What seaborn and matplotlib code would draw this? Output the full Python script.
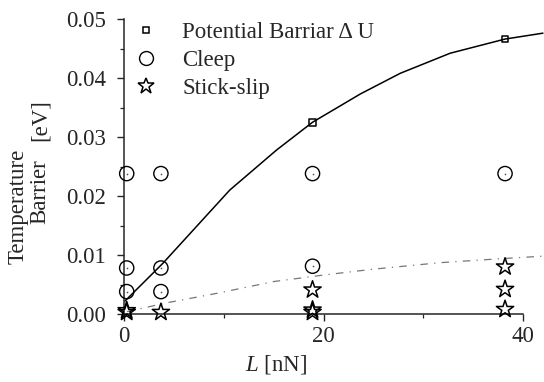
import numpy as np
import pandas as pd
import matplotlib
matplotlib.use("Agg")
import matplotlib.pyplot as plt
import seaborn as sns
from matplotlib.lines import Line2D
from matplotlib.ticker import MultipleLocator

# ---- data ----
barrier_x = [18.9, 38.2]
barrier_y = [0.0325, 0.0466]

cleep_x = [0.27, 0.27, 0.27, 3.7, 3.7, 3.7, 18.9, 18.9, 38.2]
cleep_y = [0.0238, 0.0078, 0.0038, 0.0238, 0.0078, 0.0038, 0.0238, 0.0081, 0.0238]

stick_x = [0.27, 0.27, 3.7, 18.9, 18.9, 18.9, 38.2, 38.2, 38.2]
stick_y = [0.0003, 0.0006, 0.0003, 0.0041, 0.0007, 0.0003, 0.0080, 0.0042, 0.0008]

# fitted curve through the potential barrier
barrier_curve_x = [0.1, 3.9, 10.6, 15.3, 18.9, 23.7, 27.7, 32.7, 38.2, 42.0]
barrier_curve_y = [0.0022, 0.0086, 0.0210, 0.0278, 0.0325, 0.0373, 0.0408, 0.0442, 0.0466, 0.0476]

# dash-dot guide curve
guide_x = [0.3, 4.3, 9.6, 15.0, 20.0, 25.0, 31.7, 38.0, 42.0]
guide_y = [0.0004, 0.0019, 0.0036, 0.0055, 0.0066, 0.0076, 0.0087, 0.0094, 0.0098]

x_ticks = [0, 20, 40]
y_ticks = [0.00, 0.01, 0.02, 0.03, 0.04, 0.05]
y_tick_labels = ["0.00", "0.01", "0.02", "0.03", "0.04", "0.05"]

# ---- style ----
sns.set_style("ticks")
plt.rcParams["font.family"] = ["Liberation Serif", "DejaVu Serif"]
plt.rcParams["mathtext.fontset"] = "custom"
plt.rcParams["mathtext.it"] = "Liberation Serif:italic"
plt.rcParams["mathtext.rm"] = "Liberation Serif"

FS = 16.5
fig = plt.figure(figsize=(5.44, 3.82), dpi=100)
ax = fig.add_axes([124 / 544, 1 - 314 / 382, (523 - 124) / 544, (314 - 19) / 382])
ax.set_xlim(0, 40)
ax.set_ylim(0, 0.05)

df_curve = pd.DataFrame({"x": barrier_curve_x, "y": barrier_curve_y})
df_guide = pd.DataFrame({"x": guide_x, "y": guide_y})
sns.lineplot(data=df_curve, x="x", y="y", ax=ax, color="black", lw=1.1,
             sort=True, estimator=None, clip_on=False)
sns.lineplot(data=df_guide, x="x", y="y", ax=ax, color="#777777", lw=0.9,
             sort=True, estimator=None, clip_on=False, dashes=False)
ax.lines[-1].set_linestyle((0, (6, 5, 1, 5)))

df_c = pd.DataFrame({"x": cleep_x, "y": cleep_y})
df_s = pd.DataFrame({"x": stick_x, "y": stick_y})
df_b = pd.DataFrame({"x": barrier_x, "y": barrier_y})

sns.scatterplot(data=df_c, x="x", y="y", ax=ax, marker="o", s=105,
                facecolor="none", edgecolor="black", linewidth=1.0, clip_on=False, zorder=3)
sns.scatterplot(data=df_c, x="x", y="y", ax=ax, marker="o", s=1.5,
                color="#555555", linewidth=0, clip_on=False, zorder=3)
sns.scatterplot(data=df_s, x="x", y="y", ax=ax, marker="*", s=170,
                facecolor="none", edgecolor="black", linewidth=1.1, clip_on=False, zorder=4)
sns.scatterplot(data=df_b, x="x", y="y", ax=ax, marker="s", s=22,
                facecolor="none", edgecolor="black", linewidth=1.1, clip_on=False, zorder=4)

# axes cosmetics
sns.despine(ax=ax, top=True, right=True)
ax.spines["left"].set_linewidth(1.1)
ax.spines["bottom"].set_linewidth(1.1)
ax.set_xticks(x_ticks)
ax.set_yticks(y_ticks)
ax.set_yticklabels(y_tick_labels)
ax.xaxis.set_minor_locator(MultipleLocator(10))
ax.yaxis.set_minor_locator(MultipleLocator(0.005))
ax.tick_params(axis="y", which="major", direction="out", length=5, width=1,
               labelsize=FS, pad=8)
ax.tick_params(axis="x", which="major", direction="out", length=5, width=1,
               labelsize=FS, pad=4)
ax.tick_params(axis="both", which="minor", direction="out", length=3, width=0.9)
ax.set_xlabel("")
ax.set_ylabel("")

fig.text(276 / 544, 1 - 365 / 382, r"$L$ [nN]", ha="center", va="center", fontsize=FS)
fig.text(18 / 544, 1 - 206 / 382, "Temperature", rotation=90, ha="center", va="center", fontsize=FS)
fig.text(40 / 544, 1 - 192 / 382, "Barrier", rotation=90, ha="center", va="center", fontsize=FS)
fig.text(40 / 544, 1 - 120 / 382, "[eV]", rotation=90, ha="center", va="center", fontsize=FS)

handles = [
    Line2D([], [], marker="s", ls="none", mfc="none", mec="black", ms=4.5, mew=1.1),
    Line2D([], [], marker="o", ls="none", mfc="none", mec="black", ms=10, mew=1.0),
    Line2D([], [], marker="*", ls="none", mfc="none", mec="black", ms=12, mew=1.1),
]
labels = ["Potential Barriar \u0394 U", "Cleep", "Stick-slip"]
ax.legend(handles, labels, loc="upper left", bbox_to_anchor=(-0.02, 1.045),
          frameon=False, fontsize=FS, handlelength=1.2, handletextpad=1.0,
          labelspacing=0.3, borderaxespad=0.3)

fig.savefig("out.png", dpi=100)
